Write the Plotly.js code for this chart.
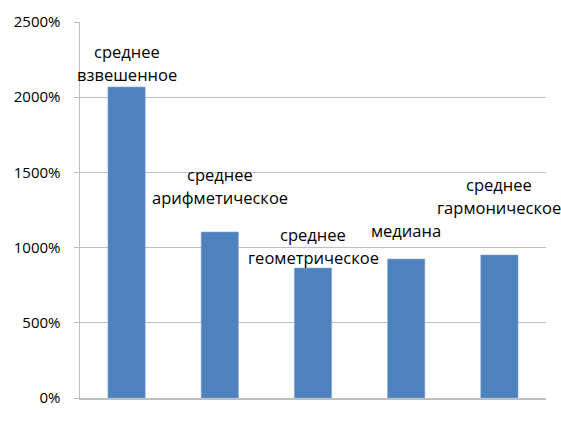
<!DOCTYPE html>
<html>
<head>
<meta charset="utf-8">
<script src="https://cdn.plot.ly/plotly-3.0.1.min.js"></script>
<style>html,body{margin:0;padding:0;background:#fff;}#chart{width:561px;height:421px;}</style>
</head>
<body>
<div id="chart"></div>
<script>
// Data
var categories = ["среднее взвешенное", "среднее арифметическое", "среднее геометрическое", "медиана", "среднее гармоническое"];
var values = [20.68, 11.04, 8.64, 9.24, 9.51]; // fractions (20.68 = 2068%)
var labelLines = [
  ["среднее", "взвешенное"],
  ["среднее", "арифметическое"],
  ["среднее", "геометрическое"],
  ["медиана"],
  ["среднее", "гармоническое"]
];
var yTickVals = [0, 5, 10, 15, 20, 25];

// Style (label offsets in px above bar top, manually placed labels)
var labelGap = [12, 34, 11, 29, 47];
var lineStep = 23;
var fontFam = "Open Sans, Liberation Sans, sans-serif";

var annotations = [];
labelLines.forEach(function (lines, i) {
  var n = lines.length;
  lines.forEach(function (txt, j) {
    annotations.push({
      x: i, y: values[i], xref: "x", yref: "y",
      text: txt, showarrow: false,
      xanchor: "center", yanchor: "middle",
      yshift: labelGap[i] + (n - 1 - j) * lineStep,
      font: {family: fontFam, size: 16.5, color: "#000"}
    });
  });
});

var trace = {
  type: "bar",
  x: categories.map(function (c, i) { return i; }),
  y: values,
  marker: {color: "#4f81bd", line: {color: "#8eaad4", width: 0.6}},
  hoverinfo: "none"
};

var layout = {
  width: 561, height: 421,
  margin: {l: 80, r: 15, t: 22, b: 23},
  paper_bgcolor: "#fff", plot_bgcolor: "#fff",
  showlegend: false,
  bargap: 0.6,
  xaxis: {
    type: "linear", range: [-0.5, 4.5], autorange: false,
    showticklabels: false, ticks: "", showgrid: false,
    showline: true, linecolor: "#bfbfbf", linewidth: 1.5,
    zeroline: false, fixedrange: true
  },
  yaxis: {
    range: [0, 25], autorange: false, tickvals: yTickVals, tickformat: ".0%",
    showgrid: true, gridcolor: "#bfbfbf", gridwidth: 1,
    showline: true, linecolor: "#bfbfbf", linewidth: 1.5,
    ticks: "outside", ticklen: 5, tickcolor: "#bfbfbf",
    ticklabelstandoff: 10,
    zeroline: false,
    tickfont: {family: fontFam, size: 15, color: "#000"},
    fixedrange: true
  },
  annotations: annotations
};

Plotly.newPlot("chart", [trace], layout, {displayModeBar: false, staticPlot: true});
</script>
</body>
</html>
